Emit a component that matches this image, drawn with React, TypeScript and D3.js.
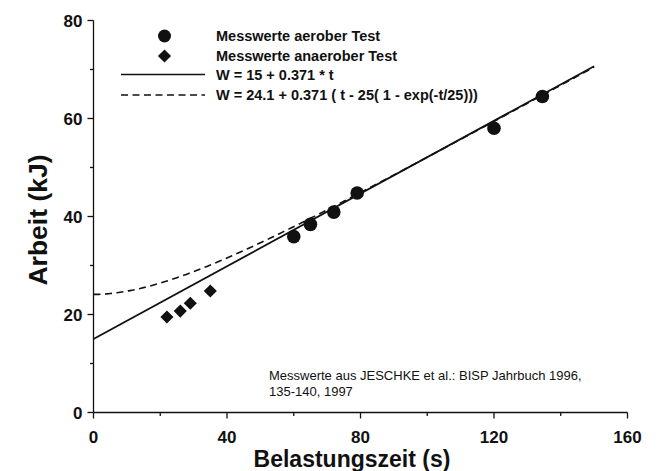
import React from "react";
import * as d3 from "d3";

// Measured work for the aerobic test runs (time s, work kJ)
const aerobTime = [60, 65, 72, 79, 120, 134.5];
const aerobWork = [35.9, 38.4, 40.9, 44.8, 58, 64.5];

// Measured work for the anaerobic test runs
const anaerobTime = [22, 26, 29, 35];
const anaerobWork = [19.5, 20.7, 22.3, 24.8];

const xTicks = [0, 40, 80, 120, 160];
const yTicks = [0, 20, 40, 60, 80];
const xMinor = [20, 60, 100, 140];
const yMinor = [10, 30, 50, 70];

const legendLabels = [
  "Messwerte aerober Test",
  "Messwerte anaerober Test",
  "W = 15 + 0.371 * t",
  "W = 24.1 + 0.371 ( t - 25( 1 - exp(-t/25)))",
];

const noteLines = [
  "Messwerte aus JESCHKE et al.: BISP Jahrbuch 1996,",
  "135-140, 1997",
];

const linearModel = (t: number) => 15 + 0.371 * t;
const expModel = (t: number) => 24.1 + 0.371 * (t - 25 * (1 - Math.exp(-t / 25)));

const W = 659;
const H = 471;
const FONT = "'Liberation Sans', Arial, Helvetica, sans-serif";

export default function App() {
  const x = d3.scaleLinear().domain([0, 160]).range([93.5, 627.5]);
  const y = d3.scaleLinear().domain([0, 80]).range([412.5, 20.5]);

  const tSamples = d3.range(0, 150.01, 0.5);
  const solidPath = d3
    .line<number>()
    .x((t) => x(t))
    .y((t) => y(linearModel(t)))([0, 150]);
  const dashedPath = d3
    .line<number>()
    .x((t) => x(t))
    .y((t) => y(expModel(t)))(tSamples);

  const diamond = d3.symbol().type(d3.symbolDiamond2).size(110)();

  const x0 = x(0);
  const y0 = y(0);

  const legX = 164.5;
  const legRows = [36, 56, 74.5, 95];

  return (
    <svg
      width={W}
      height={H}
      style={{ position: "absolute", left: 0, top: 0, background: "#fff" }}
      fontFamily={FONT}
    >
      <rect width={W} height={H} fill="#fff" />
      {/* axes */}
      <g stroke="#111" strokeWidth={1.3} fill="none">
        <line x1={x0} x2={x0} y1={y(80)} y2={y0} />
        <line x1={x0} x2={x(160)} y1={y0} y2={y0} />
        {yTicks.map((v) => (
          <line key={"yt" + v} x1={x0 - 6} x2={x0} y1={y(v)} y2={y(v)} />
        ))}
        {yMinor.map((v) => (
          <line key={"ym" + v} x1={x0 - 3.5} x2={x0} y1={y(v)} y2={y(v)} />
        ))}
        {xTicks.map((v) => (
          <line key={"xt" + v} x1={x(v)} x2={x(v)} y1={y0} y2={y0 + 6} />
        ))}
        {xMinor.map((v) => (
          <line key={"xm" + v} x1={x(v)} x2={x(v)} y1={y0} y2={y0 + 3.5} />
        ))}
      </g>
      {/* tick labels */}
      <g fontWeight="bold" fontSize={17} fill="#111">
        {yTicks.map((v) => (
          <text key={"yl" + v} x={x0 - 11} y={y(v) + 6} textAnchor="end">
            {v}
          </text>
        ))}
        {xTicks.map((v) => (
          <text key={"xl" + v} x={x(v)} y={y0 + 30} textAnchor="middle">
            {v}
          </text>
        ))}
      </g>
      {/* axis titles */}
      <text
        x={352}
        y={467}
        textAnchor="middle"
        fontWeight="bold"
        fontSize={23}
        fill="#111"
      >
        Belastungszeit (s)
      </text>
      <text
        transform="translate(47,220) rotate(-90)"
        textAnchor="middle"
        fontWeight="bold"
        fontSize={26.5}
        fill="#111"
      >
        Arbeit (kJ)
      </text>

      {/* model curves */}
      <path d={dashedPath ?? ""} fill="none" stroke="#111" strokeWidth={1.6} strokeDasharray="7,4.5" />
      <path d={solidPath ?? ""} fill="none" stroke="#111" strokeWidth={1.8} />

      {/* measured points */}
      {aerobTime.map((t, i) => (
        <circle key={"a" + i} cx={x(t)} cy={y(aerobWork[i])} r={6.8} fill="#111" />
      ))}
      {anaerobTime.map((t, i) => (
        <path
          key={"n" + i}
          d={diamond ?? ""}
          transform={`translate(${x(t)},${y(anaerobWork[i])})`}
          fill="#111"
        />
      ))}

      {/* legend */}
      <circle cx={legX} cy={legRows[0]} r={6.5} fill="#111" />
      <path d={diamond ?? ""} transform={`translate(${legX},${legRows[1]})`} fill="#111" />
      <line x1={121} x2={205} y1={legRows[2]} y2={legRows[2]} stroke="#111" strokeWidth={1.6} />
      <line
        x1={121}
        x2={205}
        y1={legRows[3]}
        y2={legRows[3]}
        stroke="#111"
        strokeWidth={1.6}
        strokeDasharray="7,4.5"
      />
      <g fontWeight="bold" fontSize={14.5} fill="#111">
        {legendLabels.map((s, i) => (
          <text key={"lg" + i} x={216} y={legRows[i] + 5}>
            {s}
          </text>
        ))}
      </g>

      {/* source note */}
      <g fontSize={13} fill="#111">
        {noteLines.map((s, i) => (
          <text key={"nt" + i} x={269} y={380 + i * 16}>
            {s}
          </text>
        ))}
      </g>
    </svg>
  );
}
